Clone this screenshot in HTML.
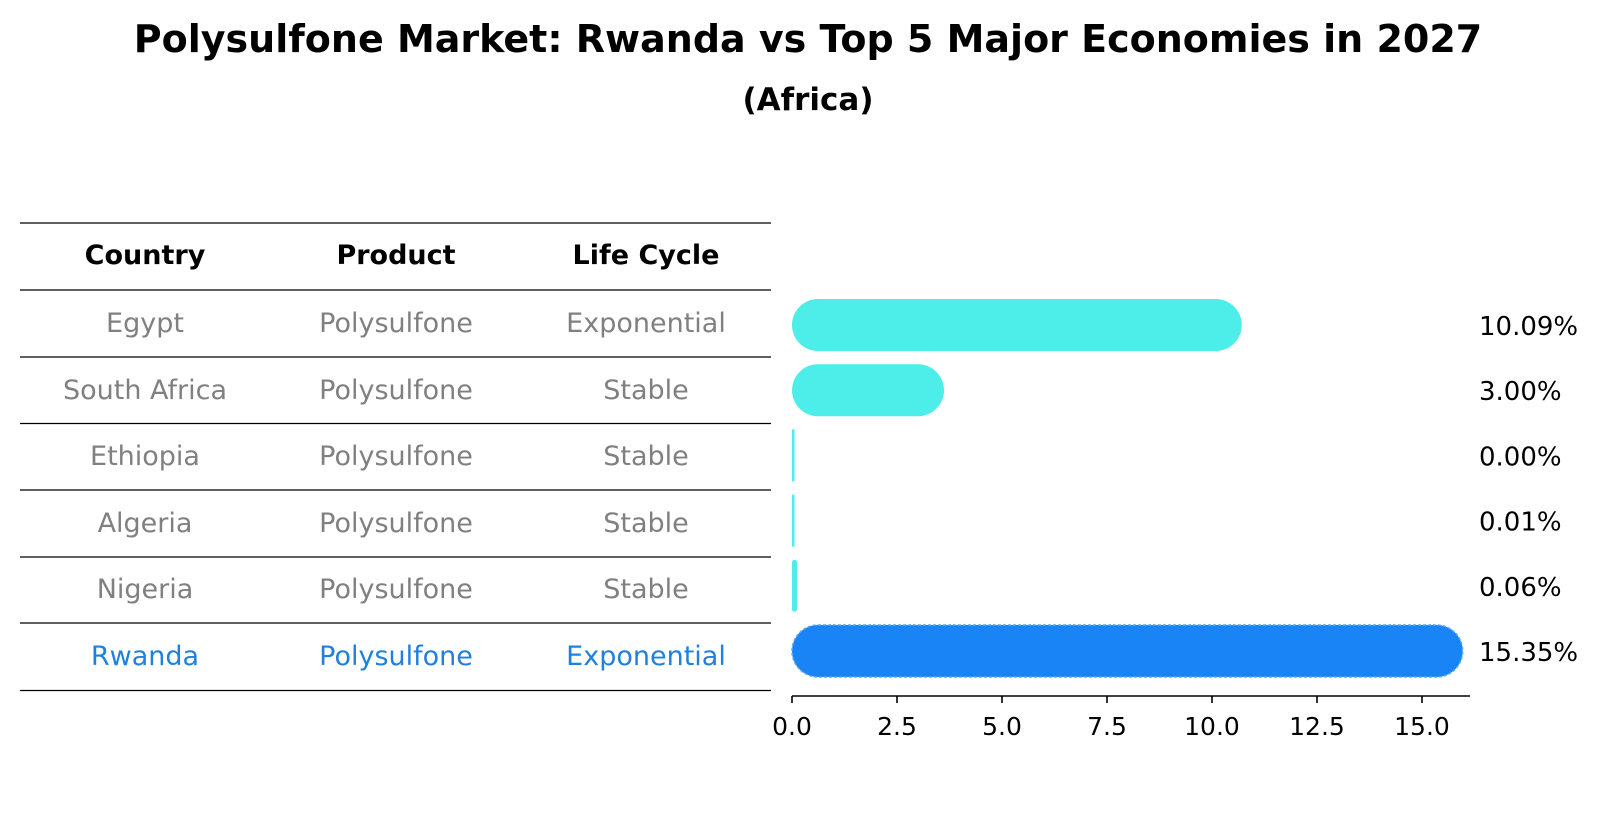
<!DOCTYPE html>
<html><head><meta charset="utf-8">
<style>
html,body{margin:0;padding:0;background:#fff;}
svg{display:block;font-family:"DejaVu Sans","Liberation Sans",sans-serif;}
</style></head>
<body>
<svg id="chart" width="1604" height="823" viewBox="0 0 1604 823" xmlns="http://www.w3.org/2000/svg">
  <text x="808" y="52" text-anchor="middle" font-size="38" font-weight="bold" fill="#000">Polysulfone Market: Rwanda vs Top 5 Major Economies in 2027</text>
  <text x="808" y="110" text-anchor="middle" font-size="31" font-weight="bold" fill="#000">(Africa)</text>
  <g id="table"></g>
  <g id="bars"></g>
  <g id="axis"></g>
</svg>
<script>
const countries = ["Egypt","South Africa","Ethiopia","Algeria","Nigeria","Rwanda"];
const products = ["Polysulfone","Polysulfone","Polysulfone","Polysulfone","Polysulfone","Polysulfone"];
const lifeCycles = ["Exponential","Stable","Stable","Stable","Stable","Exponential"];
const values = [10.09,3.00,0.00,0.01,0.06,15.35];
const valueLabels = ["10.09%","3.00%","0.00%","0.01%","0.06%","15.35%"];
const xTicks = [0,2.5,5,7.5,10,12.5,15];
const xTickLabels = ["0.0","2.5","5.0","7.5","10.0","12.5","15.0"];
const headers = ["Country","Product","Life Cycle"];

const NS = "http://www.w3.org/2000/svg";
function mk(tag, attrs, parent){const e=document.createElementNS(NS,tag);for(const k in attrs)e.setAttribute(k,attrs[k]);parent.appendChild(e);return e;}

const x0 = 792, pxPerUnit = 42;
function xScale(v){return x0 + v*pxPerUnit;}
const rowTop = 299, rowStep = 65.2, barH = 52;
function yScale(i){return rowTop + i*rowStep;}

// Table
const table = document.getElementById('table');
const lineYs = [223,290,357,423.5,490,557,623,690.5];
lineYs.forEach((y,i)=>{
  const l = mk('line',{x1:20,x2:771,y1:y,y2:y,stroke:'#000','stroke-width':1.3},table);
  
  
});
const colX = [145,396,646];
headers.forEach((h,j)=>{
  const t = mk('text',{x:colX[j],y:264,'text-anchor':'middle','font-size':27,'font-weight':'bold',fill:'#000'},table);
  t.textContent = h;
  
  
});
const rowTextY = [332,399,465,532,598,665];
countries.forEach((c,i)=>{
  const color = c==="Rwanda" ? "#1f80de" : "#808080";
  [c,products[i],lifeCycles[i]].forEach((txt,j)=>{
    const t = mk('text',{x:colX[j],y:rowTextY[i],'text-anchor':'middle','font-size':27,fill:color},table);
    t.textContent = txt;
    
    
  });
});

// Bars
const bars = document.getElementById('bars');
values.forEach((v,i)=>{
  const w = xScale(v) - x0;
  const r = Math.min(barH/2, w);
  const width = Math.max(w + r, 2.5);
  const isR = countries[i]==="Rwanda";
  const b = mk('rect',{x:x0,y:yScale(i),width:width,height:barH,rx:Math.min(r,width/2),ry:Math.min(r,width/2),fill:isR?'#1984f5':'#4deee9'},bars);
  if(isR){b.setAttribute('stroke','#5aa8f7');b.setAttribute('stroke-width','1.5');b.setAttribute('stroke-dasharray','3 2');}
  
  
  const t = mk('text',{x:1479,y:yScale(i)+barH/2+10,'font-size':26,fill:'#000'},bars);
  t.textContent = valueLabels[i];
  
  
});

// Axis
const axis = document.getElementById('axis');
const al = mk('line',{x1:x0,x2:1470,y1:696,y2:696,stroke:'#000','stroke-width':1.6},axis);


xTicks.forEach((v,i)=>{
  const tk = mk('line',{x1:xScale(v),x2:xScale(v),y1:696,y2:703,stroke:'#000','stroke-width':1.6},axis);
  
  
  const t = mk('text',{x:xScale(v),y:735,'text-anchor':'middle','font-size':25,fill:'#000'},axis);
  t.textContent = xTickLabels[i];
  
  
});
</script>
</body></html>
